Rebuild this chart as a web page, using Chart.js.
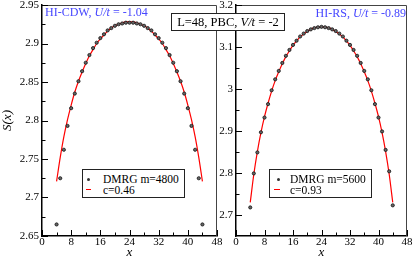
<!DOCTYPE html>
<html>
<head>
<meta charset="utf-8">
<script src="https://cdn.jsdelivr.net/npm/chart.js@4.4.1/dist/chart.umd.min.js"></script>
<style>
  body { margin: 0; background: #fff; font-family: "Liberation Serif", "Times New Roman", serif; }
  #wrap { position: relative; width: 415px; height: 260px; overflow: hidden; }
  canvas { position: absolute; top: 0; }
  #c1 { left: 0; }
  #c2 { left: 200px; }
  .tag { position: absolute; color: #4646ff; font-size: 12px; line-height: 14px; white-space: nowrap; }
  .box { position: absolute; background: #fff; border: 1px solid #222; box-sizing: border-box; white-space: nowrap; }
  .note { left: 171px; top: 13px; width: 114px; height: 18px; font-size: 12.5px; line-height: 16px; text-align: center; }
  .legend { font-size: 11.5px; font-family: "Liberation Serif", serif; }
  .legend span { position: absolute; }
  .txt { line-height: 14px; left: 20px; }
  .dot { width: 3px; height: 3px; border-radius: 50%; background: #333; }
  .dash { height: 1.3px; background: #ff0000; }
</style>
</head>
<body>
<div id="wrap">
  <canvas id="c1" width="222" height="260"></canvas>
  <canvas id="c2" width="215" height="260"></canvas>

  <div class="tag" style="left:45px;top:5px">HI-CDW, <i>U/t</i> = -1.04</div>
  <div class="tag" style="right:9px;top:6px">HI-RS, <i>U/t</i> = -0.89</div>
  <div class="box note">L=48, PBC, <i>V/t</i> = -2</div>

  <div class="box legend" style="left:82px;top:169px;width:103px;height:29px">
    <span class="dot" style="left:3.5px;top:7.5px"></span>
    <span class="txt" id="l1a" style="top:2px"></span>
    <span class="dash" style="left:3px;top:18.5px;width:5px"></span>
    <span class="txt" id="l1b" style="top:12.5px"></span>
  </div>
  <div class="box legend" style="left:269px;top:169px;width:103px;height:29px">
    <span class="dot" style="left:6.5px;top:7.5px"></span>
    <span class="txt" id="l2a" style="top:2px"></span>
    <span class="dash" style="left:4px;top:18.5px;width:5.5px"></span>
    <span class="txt" id="l2b" style="top:12.5px"></span>
  </div>
</div>

<script>
// bond positions x
const sites = [4, 5, 6, 7, 8, 9, 10, 11, 12, 13, 14, 15, 16, 17, 18, 19, 20, 21, 22, 23, 24,
               25, 26, 27, 28, 29, 30, 31, 32, 33, 34, 35, 36, 37, 38, 39, 40, 41, 42, 43, 44];

// HI-CDW panel
const cdwDmrg = [2.665, 2.725, 2.762, 2.793, 2.816, 2.835, 2.851, 2.864, 2.875, 2.885, 2.894,
                 2.901, 2.907, 2.912, 2.917, 2.920, 2.923, 2.925, 2.926, 2.927, 2.927,
                 2.927, 2.926, 2.925, 2.923, 2.920, 2.917, 2.912, 2.907, 2.901, 2.894,
                 2.885, 2.875, 2.864, 2.851, 2.835, 2.816, 2.793, 2.762, 2.725, 2.665];
const cdwFit = [2.721, 2.752, 2.779, 2.801, 2.820, 2.837, 2.851, 2.863, 2.874, 2.884, 2.892,
                2.900, 2.906, 2.911, 2.916, 2.920, 2.923, 2.925, 2.927, 2.928, 2.928,
                2.928, 2.927, 2.925, 2.923, 2.920, 2.916, 2.911, 2.906, 2.900, 2.892,
                2.884, 2.874, 2.863, 2.851, 2.837, 2.820, 2.801, 2.779, 2.752, 2.721];

// HI-RS panel
const rsDmrg = [2.718, 2.799, 2.849, 2.897, 2.932, 2.964, 2.997, 3.023, 3.043, 3.062, 3.079,
                3.093, 3.105, 3.115, 3.125, 3.132, 3.138, 3.142, 3.145, 3.147, 3.148,
                3.147, 3.145, 3.142, 3.138, 3.132, 3.125, 3.115, 3.105, 3.093, 3.079,
                3.062, 3.043, 3.023, 2.997, 2.964, 2.932, 2.899, 2.855, 2.804, 2.723];
const rsFit = [2.730, 2.797, 2.851, 2.896, 2.934, 2.966, 2.995, 3.020, 3.041, 3.060, 3.077,
               3.091, 3.104, 3.114, 3.124, 3.131, 3.137, 3.142, 3.146, 3.147, 3.148,
               3.147, 3.146, 3.142, 3.137, 3.131, 3.124, 3.114, 3.104, 3.091, 3.077,
               3.060, 3.041, 3.020, 2.995, 2.966, 2.934, 2.896, 2.851, 2.797, 2.730];

const labels = {
  cdw: ['DMRG m=4800', 'c=0.46'],
  rs: ['DMRG m=5600', 'c=0.93']
};

// ticks
const xTicks = [0, 8, 16, 24, 32, 40, 48];
const xMinor = [4, 12, 20, 28, 36, 44];
const cdwYTicks = [2.65, 2.7, 2.75, 2.8, 2.85, 2.9, 2.95];
const cdwYMinor = [2.675, 2.725, 2.775, 2.825, 2.875, 2.925];
const rsYTicks = [2.7, 2.8, 2.9, 3, 3.1, 3.2];
const rsYMinor = [2.75, 2.85, 2.95, 3.05, 3.15];

document.getElementById('l1a').textContent = labels.cdw[0];
document.getElementById('l1b').textContent = labels.cdw[1];
document.getElementById('l2a').textContent = labels.rs[0];
document.getElementById('l2b').textContent = labels.rs[1];

const pts = ys => sites.map((x, i) => ({x: x, y: ys[i]}));

// inward ticks + thin top/right frame
const frame = {
  id: 'frame',
  afterDraw(chart, args, opts) {
    const {ctx, chartArea: a, scales: {x, y}} = chart;
    ctx.save();
    ctx.strokeStyle = '#444';
    ctx.lineWidth = 1;
    ctx.beginPath();
    ctx.moveTo(a.left, a.top + 0.5);
    ctx.lineTo(a.right - 0.5, a.top + 0.5);
    ctx.lineTo(a.right - 0.5, a.bottom);
    ctx.stroke();
    ctx.strokeStyle = '#000';
    ctx.beginPath();
    x.ticks.forEach(t => {
      const px = Math.round(x.getPixelForValue(t.value)) + 0.5;
      ctx.moveTo(px, a.bottom); ctx.lineTo(px, a.bottom - 6);
    });
    opts.xMinor.forEach(v => {
      const px = Math.round(x.getPixelForValue(v)) + 0.5;
      ctx.moveTo(px, a.bottom); ctx.lineTo(px, a.bottom - 3.5);
    });
    y.ticks.forEach(t => {
      const py = Math.round(y.getPixelForValue(t.value)) + 0.5;
      ctx.moveTo(a.left, py); ctx.lineTo(a.left + 6, py);
    });
    opts.yMinor.forEach(v => {
      const py = Math.round(y.getPixelForValue(v)) + 0.5;
      ctx.moveTo(a.left, py); ctx.lineTo(a.left + 3.5, py);
    });
    ctx.stroke();
    ctx.restore();
  }
};

const serif = "'Liberation Serif', 'Times New Roman', serif";
const tickFont = {family: serif, size: 11, lineHeight: 1.2};
const titleFont = {family: serif, size: 13, style: 'italic', lineHeight: 1.2};

function makeChart(id, dmrg, fit, lab, yMin, yMax, yTicks, yMinor, yWidth, padRight, yTitle) {
  return new Chart(document.getElementById(id), {
    type: 'scatter',
    data: {
      datasets: [{
        label: lab[0],
        data: pts(dmrg),
        pointRadius: 1.6,
        pointBackgroundColor: '#666',
        pointBorderColor: '#111',
        pointBorderWidth: 0.8
      }, {
        label: lab[1],
        data: pts(fit),
        showLine: true,
        pointRadius: 0,
        borderColor: '#ff0000',
        borderWidth: 1.2,
        cubicInterpolationMode: 'monotone'
      }]
    },
    options: {
      responsive: false,
      animation: false,
      layout: {padding: {left: 0, right: padRight, top: 5, bottom: 0}},
      plugins: {
        legend: {display: false},
        tooltip: {enabled: false},
        frame: {xMinor: xMinor, yMinor: yMinor}
      },
      scales: {
        x: {
          min: 0, max: 48,
          afterBuildTicks: s => { s.ticks = xTicks.map(v => ({value: v})); },
          afterFit: s => { s.height = 24; s.paddingLeft = 0; s.paddingRight = 0; },
          grid: {display: false, drawTicks: false},
          border: {display: true, color: '#000', width: 1.5},
          ticks: {color: '#000', font: tickFont, padding: 0, maxRotation: 0,
                  callback: v => String(v)},
          title: {display: true, text: 'x', color: '#000', padding: 0, font: titleFont}
        },
        y: {
          min: yMin, max: yMax,
          afterBuildTicks: s => { s.ticks = yTicks.map(v => ({value: v})); },
          afterFit: s => { s.width = yWidth; s.paddingTop = 0; s.paddingBottom = 0; },
          grid: {display: false, drawTicks: false},
          border: {display: true, color: '#000', width: 1.5},
          ticks: {color: '#000', font: tickFont, padding: 3,
                  callback: v => String(+Number(v).toFixed(3))},
          title: {display: !!yTitle, text: yTitle || '', color: '#000', padding: 0, font: titleFont}
        }
      }
    },
    plugins: [frame]
  });
}

makeChart('c1', cdwDmrg, cdwFit, labels.cdw, 2.65, 2.95, cdwYTicks, cdwYMinor, 42, 5, 'S(x)');
makeChart('c2', rsDmrg, rsFit, labels.rs, 2.65, 3.2, rsYTicks, rsYMinor, 36, 8, '');
</script>
</body>
</html>
